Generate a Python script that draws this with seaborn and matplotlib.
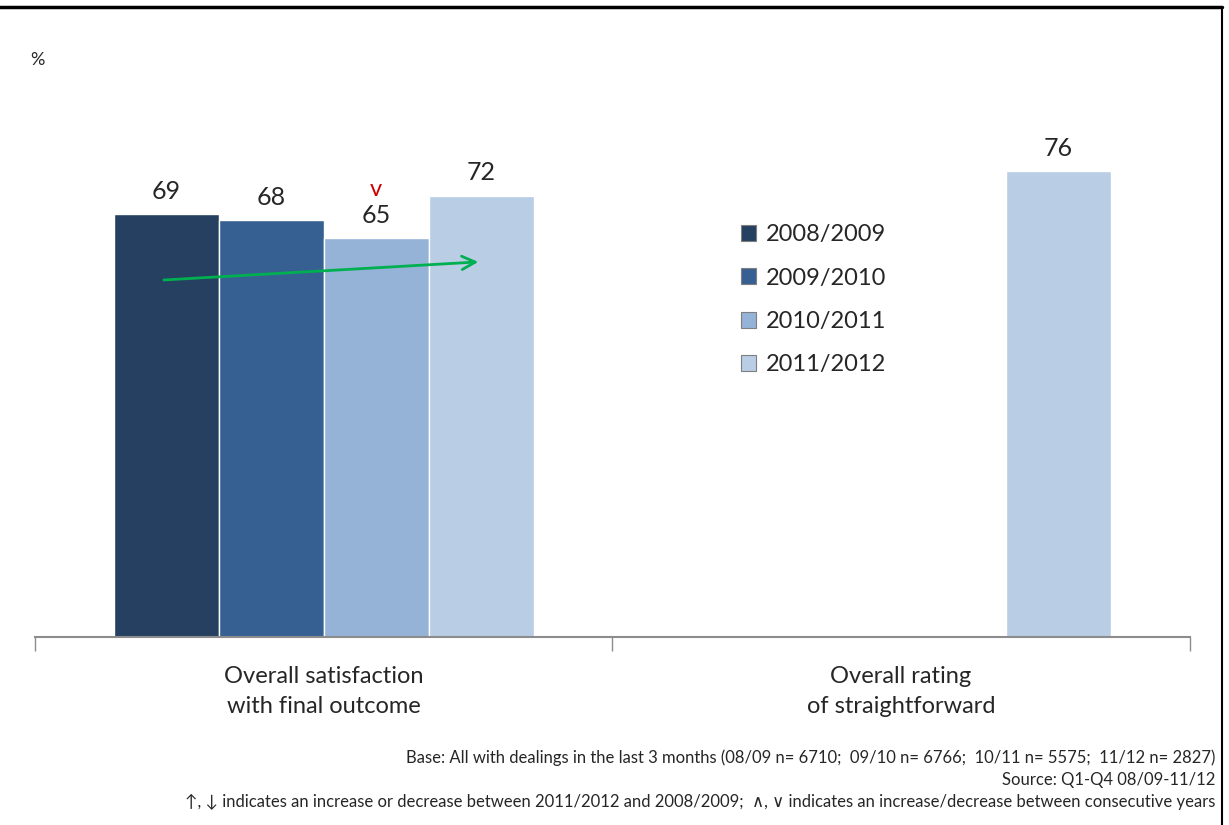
import pandas as pd
import numpy as np
import matplotlib.pyplot as plt
import seaborn as sns
from matplotlib.lines import Line2D

# --- data ---
categories = ["Overall satisfaction\nwith final outcome", "Overall rating\nof straightforward"]
years = ["2008/2009", "2009/2010", "2010/2011", "2011/2012"]
vals_outcome = [69, 68, 65, 72]
vals_straight = [np.nan, np.nan, np.nan, 76]
colors = ["#254061", "#376092", "#95B3D7", "#B9CDE5"]

footnote1 = "Base: All with dealings in the last 3 months (08/09 n= 6710;  09/10 n= 6766;  10/11 n= 5575;  11/12 n= 2827)"
footnote2 = "Source: Q1-Q4 08/09-11/12"
footnote3 = "\u2191, \u2193 indicates an increase or decrease between 2011/2012 and 2008/2009;  \u2227, \u2228 indicates an increase/decrease between consecutive years"

df = pd.DataFrame({
    "category": [categories[0]] * 4 + [categories[1]] * 4,
    "year": years * 2,
    "value": vals_outcome + vals_straight,
})

sns.set_style("white")
plt.rcParams["font.family"] = ["Lato", "DejaVu Sans"]

fig = plt.figure(figsize=(12.29, 8.25), dpi=100)
ax = fig.add_axes([0.0285, 0.228, 0.9395, 0.743])

sns.barplot(data=df, x="category", y="value", hue="year", hue_order=years,
            palette=colors, saturation=1, width=0.727, edgecolor="white", linewidth=1,
            errorbar=None, ax=ax, legend=True)

ax.set_ylim(0, 100)
ax.set_xlim(-0.5, 1.5)
ax.set_xlabel("")
ax.set_ylabel("")
ax.set_yticks([])
for s in ["top", "right", "left"]:
    ax.spines[s].set_visible(False)
ax.spines["bottom"].set_color("#8c8c8c")
ax.spines["bottom"].set_linewidth(1.5)

ax.set_xticks([0, 1])
ax.set_xticklabels(categories, fontsize=17, linespacing=1.55)
ax.tick_params(axis="x", which="major", bottom=False, length=0, pad=21)
ax.set_xticks([-0.5, 0.5, 1.5], minor=True)
ax.tick_params(axis="x", which="minor", bottom=True, length=10, color="#8c8c8c",
               width=1, direction="out")

# value labels
for cont in ax.containers:
    labels = ["" if np.isnan(v) else f"{v:.0f}" for v in cont.datavalues]
    ax.bar_label(cont, labels=labels, padding=8, fontsize=18)

# significance marker above the 2010/2011 bar
bar65 = ax.containers[2].patches[0]
ax.text(bar65.get_x() + bar65.get_width() / 2, bar65.get_height() + 6.2, "v",
        color="#cc0000", ha="center", va="bottom", fontsize=17)

# green trend arrow
b0 = ax.containers[0].patches[0]
b3 = ax.containers[3].patches[0]
ax.annotate("", xy=(b3.get_x() + b3.get_width() * 0.5, 61.2),
            xytext=(b0.get_x() + b0.get_width() * 0.45, 58.2),
            arrowprops=dict(arrowstyle="->", color="#00b050", lw=2, mutation_scale=24))

# legend
leg = ax.legend(loc="upper left", bbox_to_anchor=(0.593, 0.708), frameon=False,
                fontsize=17, handlelength=0.65, handleheight=0.65, handletextpad=0.4,
                labelspacing=0.95)
for h in leg.legend_handles:
    h.set_edgecolor("#7f7f7f")
    h.set_linewidth(0.8)

fig.text(30 / 1229, 1 - 60 / 825, "%", fontsize=13, va="center", ha="left")

fig.text(1215 / 1229, 1 - 758 / 825, footnote1, fontsize=12, ha="right", va="center")
fig.text(1215 / 1229, 1 - 780 / 825, footnote2, fontsize=12, ha="right", va="center")
fig.text(1215 / 1229, 1 - 802 / 825, footnote3, fontsize=12, ha="right", va="center")

# frame lines
fig.add_artist(Line2D([0, 1222 / 1229], [1 - 7 / 825, 1 - 7 / 825], color="black", lw=2.5))
fig.add_artist(Line2D([1222 / 1229, 1222 / 1229], [0, 1 - 7 / 825], color="black", lw=1.5))

fig.savefig("out.png", dpi=100)
